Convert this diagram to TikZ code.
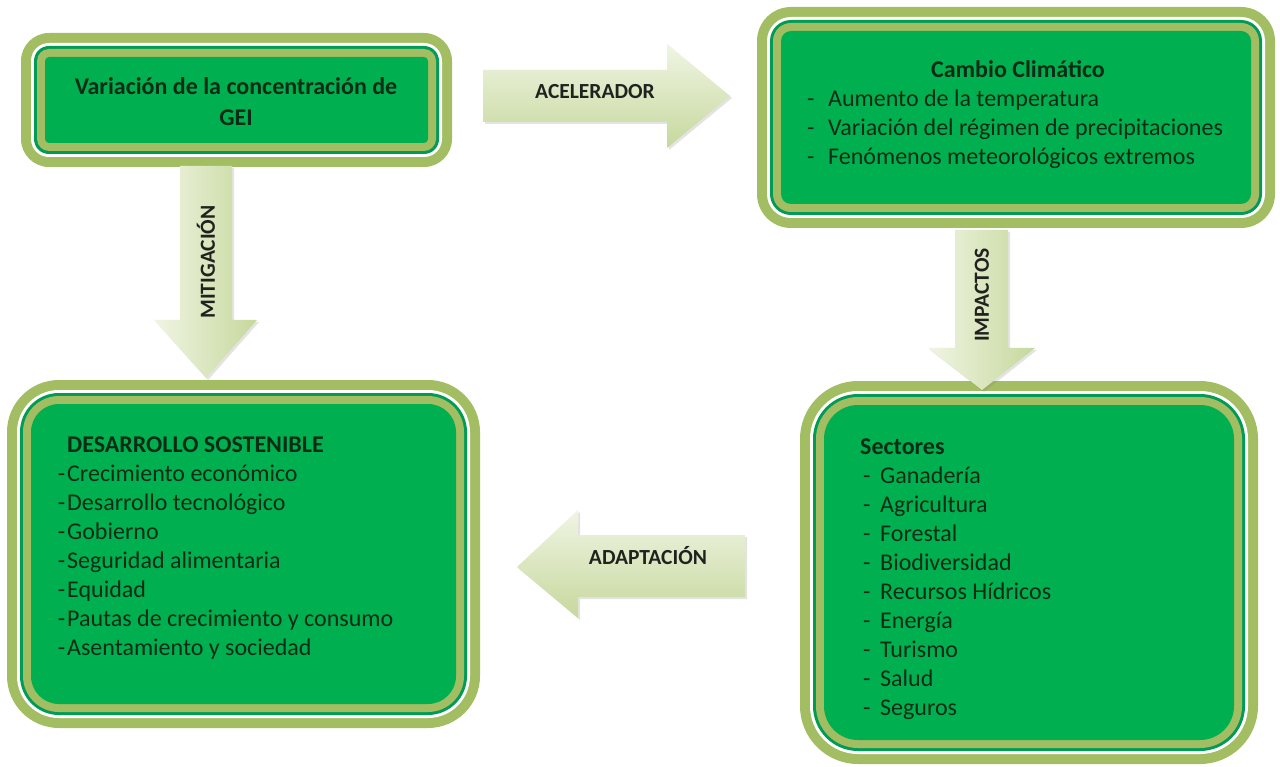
\documentclass[tikz,border=0pt]{standalone}
\usepackage{fontspec}
\setmainfont{Carlito}
\usetikzlibrary{shadows}
\definecolor{olv}{RGB}{163,189,99}
\definecolor{grn}{RGB}{0,176,80}
\definecolor{grnline}{RGB}{0,156,86}
\definecolor{txt}{RGB}{10,44,20}
\definecolor{arrL}{RGB}{240,245,228}
\definecolor{arrD}{RGB}{198,216,156}
\definecolor{labtxt}{RGB}{32,34,30}
\newcommand\ringbox[5]{%
  \pgfmathsetmacro\rrA{#5}%
  \pgfmathsetmacro\rrB{#5-10}%
  \pgfmathsetmacro\rrC{#5-13}%
  \pgfmathsetmacro\rrD{#5-16}%
  \pgfmathsetmacro\rrE{#5-24}%
  \fill[olv,rounded corners=\rrA pt] (#1,#2) rectangle (#3,#4);
  \fill[white,rounded corners=\rrB pt] (#1+10,#2+10) rectangle (#3-10,#4-10);
  \fill[grnline,rounded corners=\rrC pt] (#1+13,#2+13) rectangle (#3-13,#4-13);
  \fill[olv,rounded corners=\rrD pt] (#1+16,#2+16) rectangle (#3-16,#4-16);
  \fill[grn,rounded corners=\rrE pt] (#1+24,#2+24) rectangle (#3-24,#4-24);}
\tikzset{
  boxtxt/.style={text=txt, inner sep=0pt, font=\fontsize{24}{29}\selectfont},
  harr/.style={top color=arrL, bottom color=arrD, draw=none,
    drop shadow={opacity=0.22, shadow xshift=2pt, shadow yshift=-2pt}},
  varr/.style={left color=arrL, right color=arrD, draw=none,
    drop shadow={opacity=0.22, shadow xshift=2pt, shadow yshift=-2pt}},
  lab/.style={text=labtxt, inner sep=0pt, font=\fontsize{21.5}{25}\selectfont\bfseries}
}
\begin{document}
\begin{tikzpicture}[x=1pt,y=-1pt]
\useasboundingbox (0,0) rectangle (1280,767);
\fill[white] (0,0) rectangle (1280,767);
% boxes
\ringbox{21}{33}{452}{167}{28}
\ringbox{757}{7}{1275}{228}{34}
\ringbox{7}{380}{480}{728}{52}
\ringbox{800}{381}{1258}{764}{58}
% box texts
\node[boxtxt, align=center, font=\fontsize{24}{31}\selectfont\bfseries, anchor=base] (gei) at (236,95)
  {\begin{tabular}[t]{@{}c@{}}Variación de la concentración de\\GEI\end{tabular}};
\node[boxtxt, font=\fontsize{24}{29}\selectfont\bfseries, anchor=base] (cc) at (1018,78) {Cambio Climático};
\node[boxtxt, anchor=base west] (ccl) at (807,107)
  {\begin{tabular}[t]{@{}l@{}}
   \makebox[21pt][l]{-}Aumento de la temperatura\\
   \makebox[21pt][l]{-}Variación del régimen de precipitaciones\\
   \makebox[21pt][l]{-}Fenómenos meteorológicos extremos
  \end{tabular}};
\node[boxtxt, anchor=base west] (ds) at (67,452)
  {\begin{tabular}[t]{@{}l@{}}
   \textbf{DESARROLLO SOSTENIBLE}\\
   \llap{-\hspace{2pt}}Crecimiento económico\\
   \llap{-\hspace{2pt}}Desarrollo tecnológico\\
   \llap{-\hspace{2pt}}Gobierno\\
   \llap{-\hspace{2pt}}Seguridad alimentaria\\
   \llap{-\hspace{2pt}}Equidad\\
   \llap{-\hspace{2pt}}Pautas de crecimiento y consumo\\
   \llap{-\hspace{2pt}}Asentamiento y sociedad
  \end{tabular}};
\node[boxtxt, anchor=base west] (sec) at (860,454)
  {\begin{tabular}[t]{@{}l@{}}
   \textbf{Sectores}\\
   \hspace{3pt}\makebox[17pt][l]{-}Ganadería\\
   \hspace{3pt}\makebox[17pt][l]{-}Agricultura\\
   \hspace{3pt}\makebox[17pt][l]{-}Forestal\\
   \hspace{3pt}\makebox[17pt][l]{-}Biodiversidad\\
   \hspace{3pt}\makebox[17pt][l]{-}Recursos Hídricos\\
   \hspace{3pt}\makebox[17pt][l]{-}Energía\\
   \hspace{3pt}\makebox[17pt][l]{-}Turismo\\
   \hspace{3pt}\makebox[17pt][l]{-}Salud\\
   \hspace{3pt}\makebox[17pt][l]{-}Seguros
  \end{tabular}};
% block arrows
\path[harr] (483,70) -- (667,70) -- (667,44) -- (730,96) -- (667,148) -- (667,122) -- (483,122) -- cycle;
\path[varr] (180,166) -- (232,166) -- (232,320) -- (257,320) -- (206,378) -- (154,320) -- (180,320) -- cycle;
\path[varr] (955,230) -- (1008,230) -- (1008,348) -- (1035,348) -- (982,390) -- (928,348) -- (955,348) -- cycle;
\path[harr] (745,535) -- (578,535) -- (578,510) -- (517,567) -- (578,618) -- (578,597) -- (745,597) -- cycle;
% arrow labels
\node[lab] (acel) at (595,92) {ACELERADOR};
\node[lab, rotate=90] (miti) at (206,262) {MITIGACIÓN};
\node[lab, rotate=90] (imp) at (982,295) {IMPACTOS};
\node[lab] (adap) at (648,556) {ADAPTACIÓN};
\end{tikzpicture}
\end{document}
